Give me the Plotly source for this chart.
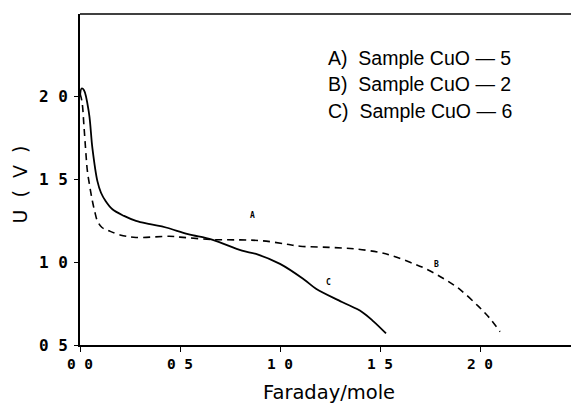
import plotly.graph_objects as go

# Curve C (solid) - Sample CuO-6
c_x = [0.0, 0.008, 0.02, 0.045, 0.062, 0.087, 0.105, 0.128, 0.162, 0.22, 0.28, 0.35,
       0.43, 0.54, 0.66, 0.81, 0.88, 1.0, 1.12, 1.18, 1.31, 1.41, 1.47, 1.53]
c_y = [2.0, 2.05, 2.04, 1.90, 1.69, 1.49, 1.42, 1.37, 1.32, 1.28, 1.25, 1.23,
       1.21, 1.17, 1.137, 1.07, 1.05, 0.99, 0.896, 0.84, 0.76, 0.70, 0.64, 0.57]

# Curve B (dashed) - Sample CuO-2
b_x = [0.0, 0.01, 0.02, 0.03, 0.037, 0.05, 0.062, 0.075, 0.087, 0.11, 0.145, 0.2,
       0.28, 0.445, 0.5, 0.66, 0.8, 0.91, 1.03, 1.1, 1.245, 1.38, 1.495, 1.56,
       1.65, 1.73, 1.82, 1.895, 1.995, 2.05, 2.10]
b_y = [2.02, 1.97, 1.82, 1.65, 1.55, 1.45, 1.37, 1.30, 1.25, 1.21, 1.19, 1.165,
       1.15, 1.157, 1.152, 1.137, 1.135, 1.13, 1.11, 1.097, 1.09, 1.08, 1.06, 1.04,
       1.0, 0.96, 0.90, 0.84, 0.73, 0.66, 0.58]

tick_vals_x = [0.0, 0.5, 1.0, 1.5, 2.0]
tick_text_x = ["0 0", "0 5", "1 0", "1 5", "2 0"]
tick_vals_y = [0.5, 1.0, 1.5, 2.0]
tick_text_y = ["0 5", "1 0", "1 5", "2 0"]

legend_lines = ["A)  Sample CuO \u2014 5", "B)  Sample CuO \u2014 2", "C)  Sample CuO \u2014 6"]
curve_labels = ["A", "B", "C"]

fig = go.Figure()
fig.add_trace(go.Scatter(x=c_x, y=c_y, mode="lines", line=dict(color="black", width=1.8),
                         line_shape="spline", showlegend=False))
fig.add_trace(go.Scatter(x=b_x, y=b_y, mode="lines",
                         line=dict(color="black", width=1.6, dash="7px,5px"),
                         line_shape="spline", showlegend=False))

fig.update_layout(
    width=571, height=397,
    margin=dict(l=72, r=0, t=6, b=60),
    paper_bgcolor="white", plot_bgcolor="white",
    xaxis=dict(range=[0, 2.495], tickvals=tick_vals_x, ticktext=tick_text_x,
               showgrid=False, zeroline=False, showline=True, linecolor="black",
               linewidth=1.6, ticks="outside", ticklen=5, tickcolor="black",
               tickfont=dict(family="DejaVu Sans Mono", size=14.5, color="black",
                             weight="bold"),
               mirror=False),
    yaxis=dict(range=[0.5, 2.5], tickvals=tick_vals_y, ticktext=tick_text_y,
               showgrid=False, zeroline=False, showline=True, linecolor="black",
               linewidth=1.6, ticks="outside", ticklen=4, tickcolor="black",
               ticklabelstandoff=3,
               tickfont=dict(family="DejaVu Sans Mono", size=16, color="black",
                             weight="bold")),
    shapes=[dict(type="line", xref="paper", yref="paper", x0=0, x1=1, y0=1, y1=1,
                 line=dict(color="black", width=1.6))],
)

# axis titles
fig.add_annotation(text="Faraday/mole", xref="paper", yref="paper", x=(321 - 72) / 499,
                   y=-0.145, yanchor="middle", xanchor="center", showarrow=False,
                   font=dict(family="DejaVu Sans", size=19.5, color="black"))
fig.add_annotation(text="U\u00a0\u00a0(\u00a0\u00a0V\u00a0\u00a0)", xref="paper", yref="paper",
                   x=-0.12, y=0.485,
                   textangle=-90, xanchor="center", yanchor="middle", showarrow=False,
                   font=dict(family="DejaVu Sans", size=19, color="black"))

# legend text
for t, yy in zip(legend_lines, [2.237, 2.077, 1.916]):
    fig.add_annotation(text=t, x=1.23, y=yy, xanchor="left", yanchor="middle",
                       showarrow=False,
                       font=dict(family="Liberation Sans", size=19.5, color="black"))

# curve labels
for lab, lx, ly in zip(curve_labels, [0.86, 1.78, 1.24], [1.28, 0.986, 0.88]):
    fig.add_annotation(text=lab, x=lx, y=ly, showarrow=False,
                       font=dict(family="DejaVu Sans Mono", size=8, color="black",
                                 weight="bold"))

fig.write_html("out.html")
